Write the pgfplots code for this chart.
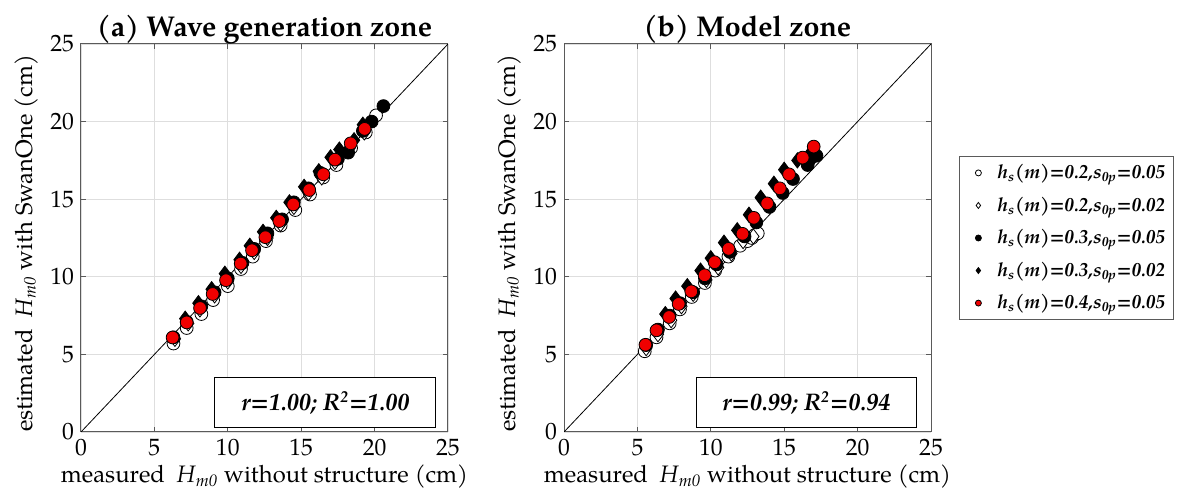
\documentclass[border=0pt]{standalone}
\usepackage{fontspec}
\setmainfont{texgyrepagella}[Extension=.otf, UprightFont=*-regular, BoldFont=*-bold, ItalicFont=*-italic, BoldItalicFont=*-bolditalic]
\usepackage{pgfplots}
\pgfplotsset{compat=1.18}
\definecolor{axgray}{RGB}{90,90,90}
\definecolor{gridgray}{RGB}{222,222,222}
\definecolor{mkred}{RGB}{240,0,0}

\pgfplotsset{
  zone/.style={
    scale only axis, width=183.5pt, height=194pt,
    xmin=0, xmax=25, ymin=0, ymax=25,
    xtick={0,5,...,25}, ytick={0,5,...,25},
    tick align=inside, major tick length=2.5pt,
    xmajorgrids, ymajorgrids,
    grid style={draw=gridgray, line width=0.4pt},
    axis line style={draw=axgray, line width=0.5pt},
    tick style={draw=axgray, line width=0.5pt},
    ticklabel style={font=\fontsize{11.8}{14}\selectfont},
    /pgf/number format/assume math mode=true,
    label style={font=\fontsize{11.9}{14}\selectfont},
    title style={font=\fontsize{14.3}{17}\selectfont\bfseries, at={(0.5,1)}, anchor=base, yshift=-2.5pt},
    xlabel={measured\ \ \textit{H}\textsubscript{\textit{m0}} without structure (cm)},
    ylabel={estimated\ \ \textit{H}\textsubscript{\textit{m0}} with SwanOne (cm)},
    xlabel style={at={(axis description cs:0.5,0)}, anchor=base, yshift=-25.5pt},
    ylabel style={at={(axis description cs:-0.1335,0.486)}, anchor=base},
  },
  s1/.style={only marks, mark=*, mark size=3.2pt, mark options={draw=black, fill=white, line width=0.4pt}},
  s2/.style={only marks, mark=diamond*, mark size=3.8pt, mark options={draw=black, fill=white, line width=0.4pt}},
  s3/.style={only marks, mark=*, mark size=3.2pt, mark options={draw=black, fill=black, line width=0.4pt}},
  s4/.style={only marks, mark=diamond*, mark size=3.8pt, mark options={draw=black, fill=black, line width=0.4pt}},
  s5/.style={only marks, mark=*, mark size=3.2pt, mark options={draw=black, fill=mkred, line width=0.4pt}},
}

\begin{document}
\begin{tikzpicture}
\useasboundingbox (0,0) rectangle (592pt,251pt);

% (a) wave generation zone
\begin{axis}[zone, at={(40.5pt,35pt)}, anchor=south west,
  title={(a) Wave generation zone}]
  \addplot[s1] coordinates {(6.3,5.7) (7.2,6.7) (8.2,7.6) (9.0,8.5) (10.0,9.4) (10.9,10.5) (11.7,11.3) (12.6,12.3) (13.6,13.3) (14.6,14.3) (15.6,15.3) (16.5,16.4) (17.4,17.2) (18.4,18.3) (19.4,19.3) (20.1,20.4)};
  \addplot[s2] coordinates {(6.4,6.0) (7.3,7.0) (8.1,7.9) (9.1,8.8) (10.0,9.7) (10.9,10.7) (11.8,11.6) (12.7,12.5) (13.6,13.4) (14.5,14.5) (15.5,15.4) (16.4,16.4) (17.3,17.4) (18.3,18.3) (19.3,19.3)};
  \addplot[s3] coordinates {(6.3,6.1) (7.2,7.1) (8.2,8.1) (9.1,9.0) (10.0,9.9) (11.0,10.9) (11.8,11.8) (12.7,12.8) (13.7,13.7) (14.5,14.8) (15.5,15.7) (16.3,16.7) (17.5,17.6) (18.2,18.0) (19.2,19.4) (19.8,20.0) (20.6,21.0)};
  \addplot[s4] coordinates {(7.1,7.3) (8.0,8.3) (8.9,9.2) (9.8,10.2) (10.8,11.1) (11.5,12.0) (12.4,12.9) (13.3,13.8) (14.2,14.8) (15.2,15.8) (16.2,16.8) (17.0,17.7) (17.6,18.2) (18.6,18.8) (19.2,19.8)};
  \addplot[s5] coordinates {(6.24,6.09) (7.20,7.06) (8.11,7.99) (8.97,8.89) (9.88,9.78) (10.88,10.85) (11.65,11.71) (12.56,12.55) (13.51,13.59) (14.46,14.66) (15.55,15.59) (16.51,16.60) (17.30,17.55) (18.37,18.60) (19.32,19.53)};
  \addplot[black, line width=0.4pt, forget plot] coordinates {(0,0) (25,25)};
  \node[draw=black, fill=white, line width=0.5pt, minimum width=110.5pt, minimum height=25pt, inner sep=0pt,
    font=\fontsize{12}{14}\selectfont\bfseries\itshape] at (axis cs:16.65,1.87) {r=1.00; R\textsuperscript{2}=1.00};
\end{axis}

% (b) model zone
\begin{axis}[zone, at={(282pt,35pt)}, anchor=south west,
  title={(b) Model zone},
  legend cell align=left,
  legend style={at={(1.076,0.712)}, anchor=north west, draw=axgray, line width=0.5pt,
    font=\fontsize{9.6}{11}\selectfont\bfseries\itshape, row sep=3.6pt, inner xsep=2pt, inner ysep=2pt},
  legend image code/.code={\path[draw=none, fill=none] (0pt,0pt) -- (15pt,0pt);
    \path[#1, draw=none, mark size=1.5pt] plot[only marks] coordinates {(7.5pt,0pt)};}]
  \addplot[s1] coordinates {(5.5,5.2) (6.3,6.1) (7.2,7.0) (7.9,7.9) (8.7,8.7) (9.6,9.6) (10.3,10.4) (11.2,11.3) (12.0,12.0) (12.5,12.3) (12.8,12.5) (13.0,12.7) (13.2,12.8)};
  \addplot[s2] coordinates {(5.6,5.4) (6.4,6.3) (7.3,7.2) (8.0,8.1) (8.8,8.9) (9.7,9.8) (10.5,10.6) (11.4,11.5) (12.2,12.3) (12.9,12.6)};
  \addplot[s3] coordinates {(5.6,5.6) (6.4,6.6) (7.2,7.5) (7.9,8.3) (8.8,9.0) (9.6,9.9) (10.4,10.8) (11.3,11.6) (12.3,12.6) (13.1,13.5) (14.0,14.5) (14.9,15.4) (15.6,16.3) (16.6,17.2) (17.2,17.8)};
  \addplot[s4] coordinates {(6.9,7.6) (7.6,8.6) (8.4,9.4) (9.3,10.4) (10.0,11.2) (10.9,12.2) (11.8,13.0) (12.6,14.0) (13.4,15.1) (14.3,16.0) (15.0,16.9) (15.9,17.5) (16.8,18.0) (17.0,17.7)};
  \addplot[s5] coordinates {(5.55,5.62) (6.30,6.55) (7.16,7.41) (7.81,8.25) (8.67,9.06) (9.58,10.10) (10.26,10.94) (11.21,11.80) (12.16,12.77) (12.93,13.80) (13.84,14.73) (14.70,15.70) (15.33,16.60) (16.26,17.68) (17.01,18.39)};
  \addplot[black, line width=0.4pt, forget plot] coordinates {(0,0) (25,25)};
  \legend{{h\textsubscript{s}(m)=0.2,s\textsubscript{0p}=0.05},
          {h\textsubscript{s}(m)=0.2,s\textsubscript{0p}=0.02},
          {h\textsubscript{s}(m)=0.3,s\textsubscript{0p}=0.05},
          {h\textsubscript{s}(m)=0.3,s\textsubscript{0p}=0.02},
          {h\textsubscript{s}(m)=0.4,s\textsubscript{0p}=0.05}}
  \node[draw=black, fill=white, line width=0.5pt, minimum width=110pt, minimum height=25pt, inner sep=0pt,
    font=\fontsize{12}{14}\selectfont\bfseries\itshape] at (axis cs:16.51,1.87) {r=0.99; R\textsuperscript{2}=0.94};
\end{axis}
\end{tikzpicture}
\end{document}
